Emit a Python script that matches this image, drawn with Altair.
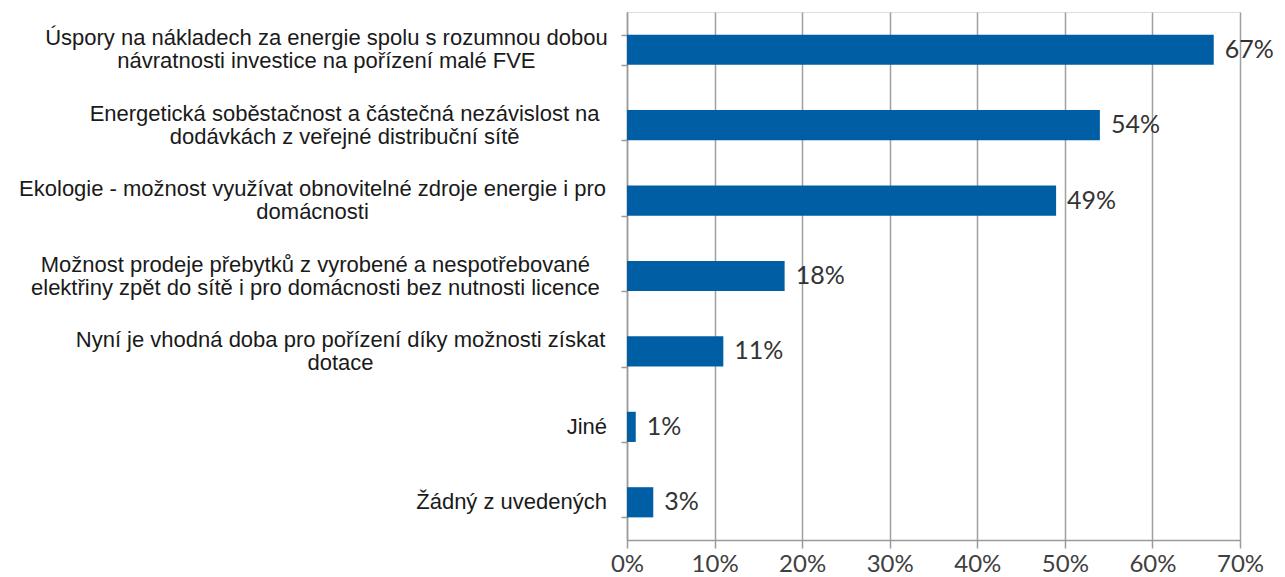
import altair as alt
import pandas as pd

line1 = [
    "Úspory na nákladech za energie spolu s rozumnou dobou",
    "Energetická soběstačnost a částečná nezávislost na",
    "Ekologie - možnost využívat obnovitelné zdroje energie i pro",
    "Možnost prodeje přebytků z vyrobené a nespotřebované",
    "Nyní je vhodná doba pro pořízení díky možnosti získat",
    "Jiné",
    "Žádný z uvedených",
]
line2 = [
    "návratnosti investice na pořízení malé FVE",
    "dodávkách z veřejné distribuční sítě",
    "domácnosti",
    "elektřiny zpět do sítě i pro domácnosti bez nutnosti licence",
    "dotace",
    "",
    "",
]
values = [67, 54, 49, 18, 11, 1, 3]
labels = [f"{v}%" for v in values]
categories = [a if not b else a + " " + b for a, b in zip(line1, line2)]

df = pd.DataFrame(
    {"cat": categories, "l1": line1, "l2": line2, "val": values, "lab": labels}
)

LABEL_FS = 22
RIGHT = -20  # right edge of category label block, px left of the axis

y_enc = alt.Y(
    "cat:N",
    sort=categories,
    scale=alt.Scale(paddingInner=0.6, paddingOuter=0.3),
    axis=alt.Axis(
        title=None,
        labels=False,
        tickBand="extent",
        tickSize=6,
        tickColor="#9a9a9a",
        domainColor="#9a9a9a",
        tickWidth=1.5,
        domainWidth=1.5,
        grid=False,
    ),
)
y_plain = alt.Y("cat:N", sort=categories)

x_enc = alt.X(
    "val:Q",
    scale=alt.Scale(domain=[0, 70], nice=False),
    axis=alt.Axis(
        title=None,
        values=[0, 10, 20, 30, 40, 50, 60, 70],
        labelExpr="datum.value + '%'",
        labelFont="Lato",
        labelFontSize=24,
        labelColor="#404040",
        labelPadding=4,
        labelFlush=False,
        tickSize=8,
        tickColor="#9a9a9a",
        domainColor="#9a9a9a",
        tickWidth=1.5,
        domainWidth=1.5,
        grid=True,
        gridColor="#a0a0a0",
        gridWidth=1.5,
    ),
)

base = alt.Chart(df)
bars = base.mark_bar(color="#005EA4").encode(x=x_enc, y=y_enc)
values_text = base.mark_text(
    align="left", baseline="middle", dx=11, font="Lato", fontSize=25, color="#333333"
).encode(x="val:Q", y=y_plain, text="lab:N")

lab_style = dict(
    baseline="middle", align="center", font="Liberation Sans", fontSize=LABEL_FS, color="#1a1a1a"
)


def width_expr(field):
    # rough rendered width of a text line, used to centre the lines of a wrapped label
    f = f"datum.{field}"
    return (
        f"1.04 * {LABEL_FS} * ("
        f"0.222 * (length({f}) - length(replace({f}, regexp('[ijlíI]', 'g'), '')))"
        f" + 0.29 * (length({f}) - length(replace({f}, regexp('[ tfr\\\\-]', 'g'), '')))"
        f" + 0.53 * length(replace({f}, regexp('[ijlíI tfr\\\\-]', 'g'), ''))"
        ")"
    )


two = (
    base.transform_filter("datum.l2 != ''")
    .transform_calculate(w1=width_expr("l1"), w2=width_expr("l2"))
    .transform_calculate(cx=f"{RIGHT} - max(datum.w1, datum.w2) / 2")
)
one = base.transform_filter("datum.l2 == ''")

cat_top = two.mark_text(dy=-11.5, **lab_style).encode(
    x=alt.X("cx:Q", scale=None), y=y_plain, text="l1:N"
)
cat_bot = two.mark_text(dy=11.5, **lab_style).encode(
    x=alt.X("cx:Q", scale=None), y=y_plain, text="l2:N"
)
cat_one = one.mark_text(
    baseline="middle", align="right", font="Liberation Sans", fontSize=LABEL_FS, color="#1a1a1a"
).encode(x=alt.value(RIGHT), y=y_plain, text="l1:N")

chart = (
    alt.layer(bars, values_text, cat_top, cat_bot, cat_one)
    .properties(
        width=613,
        height=528,
        autosize=alt.AutoSizeParams(type="none"),
        padding={"left": 627, "top": 12, "right": 45, "bottom": 37},
    )
    .configure_view(stroke=None)
    .configure(background="white")
)

chart.save("out.html", embed_options={"renderer": "svg", "actions": False})
